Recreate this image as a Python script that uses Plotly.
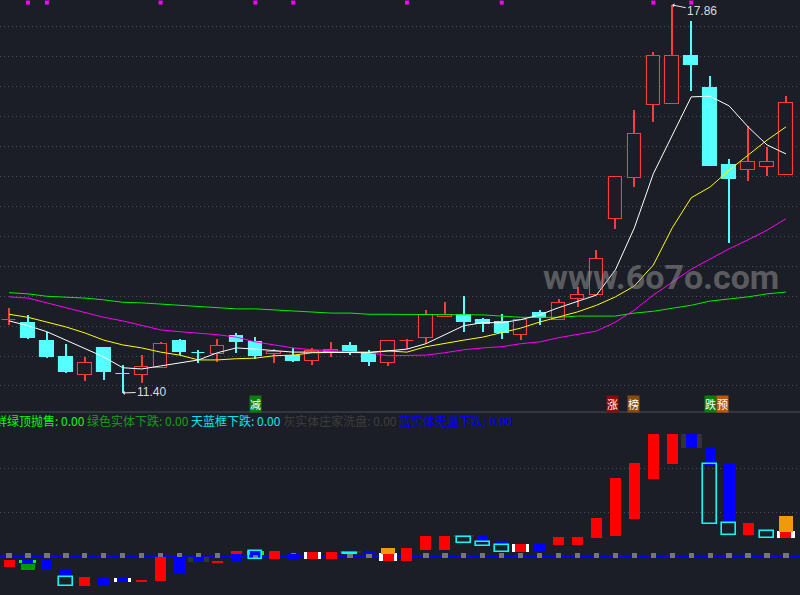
import plotly.graph_objects as go

BG = '#1b1e26'
GRID = '#4b4f59'

# ---- main panel: daily candles (price) ----
opens  = [12.61, 12.57, 12.27, 12.00, 11.70, 12.15, 11.72, 11.70, 11.82, 12.27,
          12.07, 12.05, 12.35, 12.25, 12.05, 12.02, 11.93, 12.08, 12.18, 12.05,
          11.90, 12.26, 12.32, 12.67, 12.70, 12.62, 12.58, 12.37, 12.73, 12.62,
          12.96, 13.03, 14.30, 14.98, 16.19, 16.21, 17.01, 16.48, 15.19, 15.11,
          15.16, 15.03]
highs  = [12.81, 12.69, 12.42, 12.22, 12.00, 12.15, 11.87, 12.03, 12.25, 12.30,
          12.12, 12.30, 12.40, 12.33, 12.13, 12.15, 12.15, 12.25, 12.25, 12.12,
          12.27, 12.30, 12.78, 12.92, 13.01, 12.65, 12.71, 12.62, 12.78, 12.96,
          13.16, 13.78, 15.00, 16.11, 17.08, 17.86, 17.59, 16.68, 15.29, 15.84,
          15.49, 16.34]
lows   = [12.53, 12.30, 11.99, 11.73, 11.60, 11.62, 11.40, 11.57, 11.82, 12.03,
          11.90, 11.92, 12.07, 11.97, 11.90, 11.92, 11.87, 12.00, 12.03, 11.85,
          11.85, 12.13, 12.22, 12.67, 12.42, 12.42, 12.30, 12.28, 12.53, 12.62,
          12.83, 13.03, 14.13, 14.83, 15.91, 16.21, 16.43, 15.18, 13.90, 14.93,
          15.01, 15.03]
closes = [12.62, 12.32, 12.00, 11.75, 11.90, 11.75, 11.71, 11.83, 12.22, 12.08,
          12.06, 12.18, 12.25, 12.02, 12.08, 11.93, 12.10, 12.12, 12.08, 11.92,
          12.27, 12.27, 12.70, 12.70, 12.58, 12.55, 12.40, 12.62, 12.65, 12.90,
          13.03, 13.63, 15.00, 15.71, 17.01, 17.01, 16.86, 15.18, 14.96, 15.25,
          15.25, 16.23]

ma5  = [12.60, 12.52, 12.42, 12.28, 12.15, 12.00, 11.82, 11.80, 11.85, 11.90,
        11.95, 12.07, 12.15, 12.13, 12.10, 12.08, 12.08, 12.08, 12.07, 12.07,
        12.10, 12.13, 12.22, 12.37, 12.52, 12.57, 12.57, 12.62, 12.70, 12.82,
        12.92, 13.03, 13.45, 14.15, 15.05, 15.69, 16.33, 16.34, 16.18, 15.83,
        15.53, 15.38]
ma10 = [12.71, 12.66, 12.58, 12.50, 12.40, 12.28, 12.20, 12.15, 12.08, 12.03,
        11.95, 11.95, 11.97, 11.98, 12.02, 12.03, 12.07, 12.07, 12.07, 12.08,
        12.10, 12.08, 12.17, 12.23, 12.28, 12.33, 12.40, 12.48, 12.58, 12.66,
        12.75, 12.86, 13.00, 13.18, 13.53, 14.15, 14.65, 14.83, 15.11, 15.36,
        15.61, 15.83]
ma20 = [13.00, 12.98, 12.90, 12.82, 12.73, 12.66, 12.60, 12.53, 12.45, 12.42,
        12.40, 12.37, 12.33, 12.25, 12.20, 12.15, 12.12, 12.10, 12.08, 12.07,
        12.02, 12.02, 12.03, 12.07, 12.12, 12.15, 12.17, 12.22, 12.25, 12.32,
        12.37, 12.43, 12.58, 12.78, 13.03, 13.25, 13.46, 13.63, 13.80, 13.95,
        14.11, 14.30]
ma60 = [13.07, 13.05, 13.01, 13.00, 12.98, 12.95, 12.91, 12.90, 12.88, 12.86,
        12.83, 12.81, 12.80, 12.80, 12.78, 12.76, 12.75, 12.73, 12.73, 12.71,
        12.71, 12.71, 12.71, 12.71, 12.71, 12.70, 12.68, 12.66, 12.66, 12.66,
        12.68, 12.68, 12.68, 12.73, 12.76, 12.81, 12.86, 12.93, 12.96, 13.00,
        13.05, 13.08]

top_dot_idx = [1, 2, 8, 13, 15, 21, 26, 34, 36]
top_dot_level = 17.90

sig_text  = ['减', '涨', '榜', '跌', '预']
sig_idx   = [13, 32, 33, 37, 37]
sig_color = ['#0a7d0a', '#8c0a0a', '#8a4a0a', '#0a7d0a', '#c0580a']

# ---- lower panel: indicator columns (base, top) ----
dgray_idx = [10, 18, 24, 36]
dgray_lo  = [-1.4, 0.7, 4.4, 24.5]
dgray_hi  = [-0.2, 1.1, 4.6, 27.7]

white_idx = [6, 16, 20, 27, 41]
white_lo  = [-5.9, -0.7, -1.1, 0.9, 4.1]
white_hi  = [-5.0, 0.9, 0.7, 2.7, 5.7]

lime_idx = [1, 13]
lime_lo  = [-1.6, 0.2]
lime_hi  = [-0.9, 1.1]

green_idx = [1]
green_lo  = [-3.2]
green_hi  = [-1.8]

orange_idx = [20, 41]
orange_lo  = [0.5, 5.5]
orange_hi  = [1.8, 9.1]

red_idx = [0, 4, 7, 8, 11, 12, 14, 16, 17, 20, 21, 22, 23, 27, 29, 30, 31, 32,
           33, 34, 35, 39, 41]
red_lo  = [-2.5, -6.8, -5.9, -5.7, -1.4, 0.5, -0.7, -0.7, -0.7, -1.1, -1.1, 1.4,
           1.4, 0.9, 2.5, 2.5, 4.1, 4.5, 8.4, 17.5, 20.9, 4.8, 4.1]
red_hi  = [-0.9, -4.8, -5.5, -0.2, -1.1, 1.1, 1.1, 0.9, 0.9, 0.5, 1.8, 4.5,
           4.5, 2.7, 4.3, 4.3, 8.6, 17.7, 21.1, 27.7, 27.7, 7.5, 5.5]

blue_idx = [1, 2, 3, 5, 6, 9, 10, 12, 13, 15, 18, 19, 25, 26, 28, 36, 37, 38]
blue_lo  = [-1.8, -3.2, -5.0, -6.8, -5.9, -4.1, -1.4, -1.4, 0.2, -0.7, 0.7, 0.5,
            3.2, 2.3, 0.9, 24.5, 20.7, 7.3]
blue_hi  = [-0.9, -0.9, -2.9, -5.0, -5.0, -0.2, -0.2, 0.5, 1.1, 0.5, 1.1, 1.1,
            4.5, 3.2, 2.7, 27.7, 24.8, 20.9]

cyan_idx = [3, 13, 18, 24, 25, 26, 37, 38, 40]
cyan_lo  = [-6.8, -0.7, 0.45, 2.9, 2.3, 0.9, 7.3, 4.8, 4.1]
cyan_hi  = [-4.8, 1.1, 0.7, 4.3, 3.2, 2.5, 20.9, 7.5, 5.7]

legend_items = [('鲜绿顶抛售: 0.00', '#00ff00'), ('绿色实体下跌: 0.00', '#1c9c1c'),
                ('天蓝框下跌: 0.00', '#00e6f0'), ('灰实体庄家洗盘: 0.00', '#3d3d3d'),
                ('蓝实体无量下跌: 0.00', '#0000ff')]

n = len(closes)
idx = list(range(n))
up = [c >= o for o, c in zip(opens, closes)]

fig = go.Figure()

# wicks (thin bars) then bodies
for is_up, col in [(True, '#ff3b3b'), (False, '#55ffff')]:
    sel = [i for i in idx if up[i] == is_up]
    fig.add_trace(go.Bar(x=sel, base=[lows[i] for i in sel],
                         y=[highs[i] - lows[i] for i in sel], width=0.055,
                         marker=dict(color=col, line=dict(width=0))))
for is_up, col, fill in [(True, '#ff3b3b', BG), (False, '#55ffff', '#55ffff')]:
    sel = [i for i in idx if up[i] == is_up]
    fig.add_trace(go.Bar(x=sel, base=[min(opens[i], closes[i]) for i in sel],
                         y=[abs(closes[i] - opens[i]) for i in sel], width=0.72,
                         marker=dict(color=fill, line=dict(color=col, width=1.1))))

for ma, col in [(ma60, '#00ee00'), (ma20, '#ff00ff'), (ma10, '#ffff00'), (ma5, '#ffffff')]:
    fig.add_trace(go.Scatter(x=idx, y=ma, mode='lines', line=dict(color=col, width=1)))

fig.add_trace(go.Scatter(x=top_dot_idx, y=[top_dot_level] * len(top_dot_idx), mode='markers',
                         marker=dict(symbol='square', size=4, color='#ff00ff')))


def col_bars(xs, lo, hi, w, fill, edge=None, lw=0):
    return go.Bar(x=xs, base=lo, y=[h - l for l, h in zip(lo, hi)], width=w,
                  xaxis='x2', yaxis='y2',
                  marker=dict(color=fill, line=dict(color=edge or fill, width=lw)))


fig.add_trace(col_bars(idx, [-0.5] * n, [0.6] * n, 0.28, '#767676'))
fig.add_trace(col_bars(dgray_idx, dgray_lo, dgray_hi, 1.1, '#333333'))
fig.add_trace(col_bars(white_idx, white_lo, white_hi, 0.9, '#ffffff'))
fig.add_trace(col_bars(lime_idx, lime_lo, lime_hi, 0.9, '#00ff00'))
fig.add_trace(col_bars(green_idx, green_lo, green_hi, 0.78, '#009a00'))
fig.add_trace(col_bars(orange_idx, orange_lo, orange_hi, 0.78, '#f09a0a'))
fig.add_trace(col_bars(red_idx, red_lo, red_hi, 0.58, '#ff0000'))
fig.add_trace(col_bars(blue_idx, blue_lo, blue_hi, 0.58, '#0000ff'))
fig.add_trace(col_bars(cyan_idx, cyan_lo, cyan_hi, 0.72, 'rgba(0,0,0,0)', '#00ffff', 1.6))

ann = []
ann.append(dict(x=35, y=highs[35], xref='x', yref='y', text='17.86', showarrow=True,
                ax=30, ay=6, arrowhead=1, arrowsize=0.7, arrowwidth=1, arrowcolor='#e8e8e8',
                font=dict(family='Liberation Sans', size=12, color='#dcdcdc')))
ann.append(dict(x=6, y=lows[6], xref='x', yref='y', text='11.40', showarrow=True,
                ax=29, ay=-1, arrowhead=1, arrowsize=0.7, arrowwidth=1, arrowcolor='#e8e8e8',
                font=dict(family='Liberation Sans', size=12, color='#dcdcdc')))
shifts = [0, -3, -1, 0, 12]
for t, i, c, s in zip(sig_text, sig_idx, sig_color, shifts):
    ann.append(dict(x=i, y=1 - 404 / 595, xref='x', yref='paper', text=t, showarrow=False,
                    xshift=s, yanchor='middle', bgcolor=c, borderpad=0,
                    font=dict(family='Noto Sans CJK SC', size=11, color='#ffffff')))
ann.append(dict(x=0.826, y=1 - 277 / 595, xref='paper', yref='paper', text='www.6o7o.com',
                xanchor='center', yanchor='middle', showarrow=False,
                font=dict(family='Roboto', size=34, weight='bold', color='rgba(140,140,140,0.58)')))
ann.append(dict(x=-7 / 800, y=1 - 420 / 595, xref='paper', yref='paper', xanchor='left',
                yanchor='middle', showarrow=False,
                text=' '.join("<span style='color:%s'>%s</span>" % (c, t) for t, c in legend_items),
                font=dict(family='Noto Sans CJK SC', size=12)))

fig.update_layout(
    width=800, height=595, margin=dict(l=0, r=0, t=0, b=0),
    paper_bgcolor=BG, plot_bgcolor=BG, showlegend=False,
    barmode='overlay', bargap=0,
    xaxis=dict(range=[-0.475, 41.74], visible=False, anchor='y'),
    xaxis2=dict(range=[-0.475, 41.74], visible=False, anchor='y2', matches='x'),
    yaxis=dict(domain=[1 - 412 / 595, 1], range=[11.083, 17.943], tick0=17.51, dtick=0.4995,
               showgrid=True, gridcolor=GRID, griddash='1px,3px', gridwidth=1,
               showticklabels=False, zeroline=False, ticks=''),
    yaxis2=dict(domain=[0, 1 - 413 / 595], range=[-8.86, 32.5], tickvals=[10, 20],
                showgrid=True, gridcolor=GRID, griddash='1px,3px', gridwidth=1,
                showticklabels=False, zeroline=True, zerolinecolor='#0000ff', zerolinewidth=1,
                ticks=''),
    shapes=[dict(type='line', xref='paper', yref='paper', x0=0, x1=1,
                 y0=1 - 412 / 595, y1=1 - 412 / 595, line=dict(color='#3b4049', width=1.5))],
    annotations=ann,
)

# the page body has a default 8px margin; drop it so the chart fills the window
fig.write_html('out.html', config={'displayModeBar': False},
               post_script="document.body.style.margin='0';")
